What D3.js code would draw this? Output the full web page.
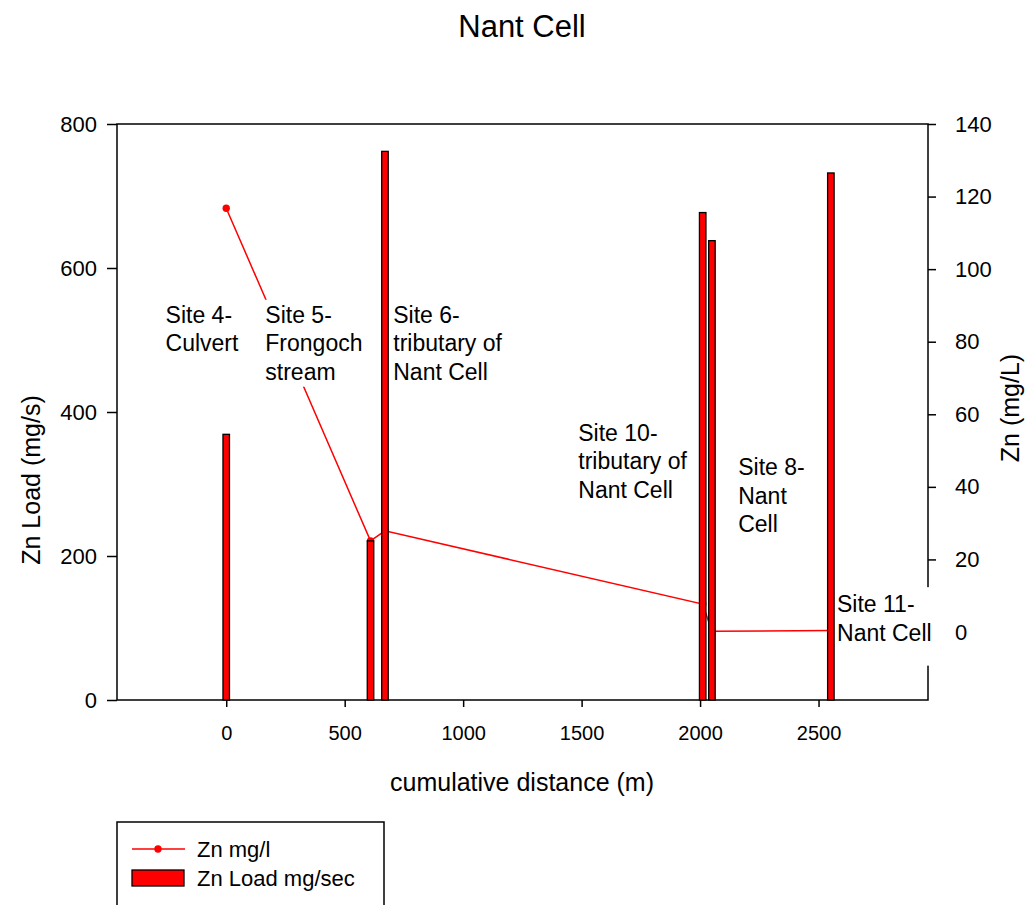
<!DOCTYPE html>
<html>
<head>
<meta charset="utf-8">
<script src="https://cdn.jsdelivr.net/npm/d3@7"></script>
<style>
	body { margin: 0; background: #fff; }
	svg { display: block; font-family: "Liberation Sans", Arial, sans-serif; }
</style>
</head>
<body>
<div id="chart"></div>
<script>
// Sampling sites along the stream
var sites = ["Site 4", "Site 5", "Site 6", "Site 10", "Site 8", "Site 11"];
var distance = [0, 609, 670, 2011, 2050, 2552];      // cumulative distance (m)
var znLoad = [369, 221, 762, 677, 638, 732];          // Zn load mg/sec
var znConc = [116.8, 25.1, 27.9, 7.7, 0.2, 0.4];      // Zn mg/l

var xTicks = [0, 500, 1000, 1500, 2000, 2500];
var loadTicks = [0, 200, 400, 600, 800];
var concTicks = [0, 20, 40, 60, 80, 100, 120, 140];

// Site annotations (anchor in data units: distance, load)
var labelLines = [
	["Site 4-", "Culvert"],
	["Site 5-", "Frongoch", "stream"],
	["Site 6-", "tributary of", "Nant Cell"],
	["Site 10-", "tributary of", "Nant Cell"],
	["Site 8-", "Nant", "Cell"],
	["Site 11-", "Nant Cell"]
];
var labelX = [-256, 165, 705, 1486, 2161, 2578];
var labelY = [524, 524, 524, 360, 312, 122];

var legendItems = ["Zn mg/l", "Zn Load mg/sec"];

var width = 1027;
var height = 905;
var margin = { top: 124, right: 99, bottom: 205, left: 117 };
var RED = "#ff0000";

var svg = d3.select("#chart").append("svg")
	.attr("width", width)
	.attr("height", height);

// Scales
var x = d3.scaleLinear()
	.domain([-461, 2962])
	.range([margin.left, width - margin.right]);
var yLoad = d3.scaleLinear()
	.domain([0, 800])
	.range([height - margin.bottom, margin.top]);
var yConc = d3.scaleLinear()
	.domain([-18.74, 140])
	.range([height - margin.bottom, margin.top]);

// Title
svg.append("text")
	.attr("x", 522)
	.attr("y", 37)
	.attr("text-anchor", "middle")
	.attr("font-size", "31px")
	.text("Nant Cell");

// Axes
var xAxis = svg.append("g")
	.attr("transform", "translate(0," + yLoad(0) + ")")
	.call(d3.axisBottom(x).tickValues(xTicks).tickFormat(d3.format("d")).tickSize(7).tickPadding(19));
xAxis.selectAll("text").attr("font-size", "20px");

var yAxisL = svg.append("g")
	.attr("transform", "translate(" + margin.left + ",0)")
	.call(d3.axisLeft(yLoad).tickValues(loadTicks).tickFormat(d3.format("d")).tickSize(10).tickPadding(10));
yAxisL.selectAll("text").attr("font-size", "22px");

var yAxisR = svg.append("g")
	.attr("transform", "translate(" + (width - margin.right) + ",0)")
	.call(d3.axisRight(yConc).tickValues(concTicks).tickFormat(d3.format("d")).tickSize(8).tickPadding(19));
yAxisR.selectAll("text").attr("font-size", "22px");

svg.selectAll(".domain").remove();
svg.selectAll(".tick line").attr("stroke", "#000").attr("stroke-width", 1.5);
svg.selectAll(".tick text").attr("fill", "#000").attr("font-family", "Liberation Sans, Arial, sans-serif");

// Plot frame
svg.append("rect")
	.attr("x", margin.left)
	.attr("y", margin.top)
	.attr("width", width - margin.left - margin.right)
	.attr("height", height - margin.top - margin.bottom)
	.attr("fill", "none")
	.attr("stroke", "#000")
	.attr("stroke-width", 1.5);

// Axis titles
svg.append("text")
	.attr("x", 522)
	.attr("y", 791)
	.attr("text-anchor", "middle")
	.attr("font-size", "25px")
	.text("cumulative distance (m)");

svg.append("text")
	.attr("transform", "translate(40," + 480 + ") rotate(-90)")
	.attr("text-anchor", "middle")
	.attr("font-size", "25px")
	.text("Zn Load (mg/s)");

svg.append("text")
	.attr("transform", "translate(1019," + 408 + ") rotate(-90)")
	.attr("text-anchor", "middle")
	.attr("font-size", "25px")
	.text("Zn (mg/L)");

// Zn concentration line
var line = d3.line()
	.x(function(d, i) { return x(distance[i]); })
	.y(function(d) { return yConc(d); });

svg.append("path")
	.datum(znConc)
	.attr("d", line)
	.attr("fill", "none")
	.attr("stroke", RED)
	.attr("stroke-width", 1.5);

svg.selectAll(".conc-dot")
	.data(znConc)
	.enter().append("circle")
	.attr("class", "conc-dot")
	.attr("cx", function(d, i) { return x(distance[i]); })
	.attr("cy", function(d) { return yConc(d); })
	.attr("r", 3.7)
	.attr("fill", RED);

// Site labels with white boxes (they hide the line and the right spine)
// the last label box is taller/wider in the original and hides the 0 tick
labelLines.forEach(function(lines, i) {
	var g = svg.append("g").attr("class", "site-label");
	var bg = g.append("rect").attr("fill", "#fff");
	var t = g.append("text")
		.attr("font-size", "23px")
		.attr("fill", "#000");
	lines.forEach(function(s, j) {
		t.append("tspan")
			.attr("x", x(labelX[i]))
			.attr("y", yLoad(labelY[i]) + j * 28.5)
			.text(s);
	});
	var bb = t.node().getBBox();
	var last = (i === labelLines.length - 1);
	bg.attr("x", bb.x - 3)
		.attr("y", bb.y - (last ? 4 : 2))
		.attr("width", bb.width + (last ? 12 : 6))
		.attr("height", bb.height + (last ? 24 : 4));
});

// Zn load bars
var barW = 6.5;
svg.selectAll(".load-bar")
	.data(znLoad)
	.enter().append("rect")
	.attr("class", "load-bar")
	.attr("x", function(d, i) { return x(distance[i]) - barW / 2; })
	.attr("y", function(d) { return yLoad(d); })
	.attr("width", barW)
	.attr("height", function(d) { return yLoad(0) - yLoad(d); })
	.attr("fill", RED)
	.attr("stroke", "#000")
	.attr("stroke-width", 1.3);

// Legend
var legend = svg.append("g").attr("class", "legend");
legend.append("rect")
	.attr("x", 117)
	.attr("y", 822)
	.attr("width", 267)
	.attr("height", 120)
	.attr("fill", "#fff")
	.attr("stroke", "#000")
	.attr("stroke-width", 1.5);

legend.append("line")
	.attr("x1", 132).attr("x2", 185)
	.attr("y1", 849).attr("y2", 849)
	.attr("stroke", RED)
	.attr("stroke-width", 1.5);
legend.append("circle")
	.attr("cx", 158).attr("cy", 849)
	.attr("r", 3.7)
	.attr("fill", RED);
legend.append("rect")
	.attr("x", 132).attr("y", 870)
	.attr("width", 52).attr("height", 16)
	.attr("fill", RED)
	.attr("stroke", "#000")
	.attr("stroke-width", 1.3);

legend.selectAll(".legend-text")
	.data(legendItems)
	.enter().append("text")
	.attr("class", "legend-text")
	.attr("x", 197)
	.attr("y", function(d, i) { return 857 + i * 29; })
	.attr("font-size", "22px")
	.text(function(d) { return d; });
</script>
</body>
</html>
